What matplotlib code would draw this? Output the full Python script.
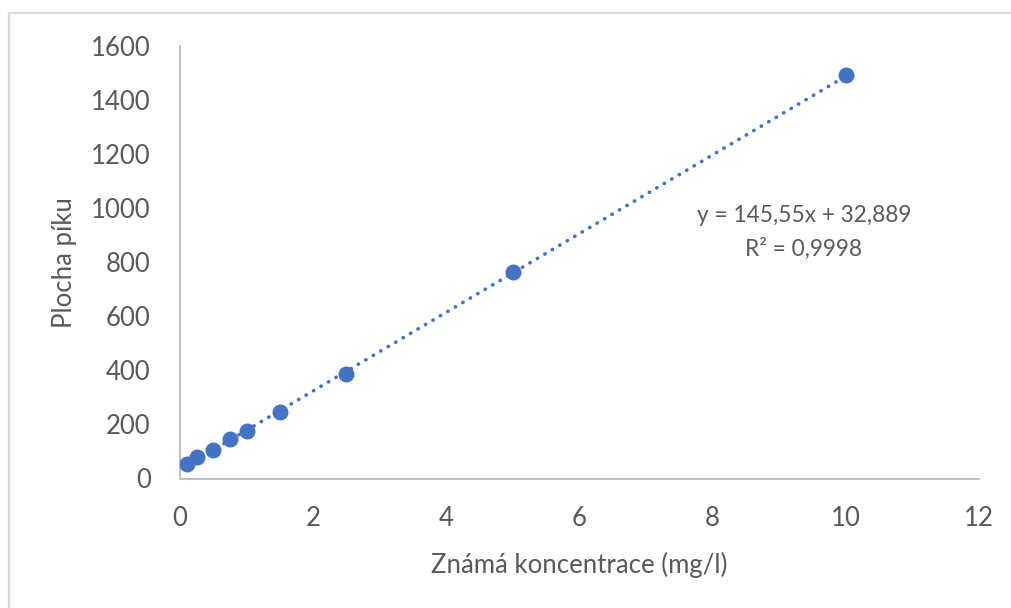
import matplotlib
matplotlib.use("Agg")
import matplotlib.pyplot as plt
from matplotlib.lines import Line2D
import numpy as np

# Calibration data: known concentration vs. peak area
concentration = [0.1, 0.25, 0.5, 0.75, 1.0, 1.5, 2.5, 5.0, 10.0]
peak_area = [55, 78, 107, 145, 176, 245, 385, 763, 1493]

# Linear trendline parameters (as reported)
slope = 145.55
intercept = 32.889
r_squared = 0.9998

x_ticks = [0, 2, 4, 6, 8, 10, 12]
y_ticks = [0, 200, 400, 600, 800, 1000, 1200, 1400, 1600]

plt.rcParams['font.family'] = ['Lato', 'DejaVu Sans']

W, H = 1012, 608
fig = plt.figure(figsize=(W / 100, H / 100), dpi=100)
ax = fig.add_axes([180 / W, 1 - 478.5 / H, (979 - 180) / W, (478.5 - 46) / H])

blue = '#4472C4'
grey_text = '#595959'
axis_grey = '#BFBFBF'

x = np.array(concentration)
xl = np.linspace(x.min(), x.max(), 200)
ax.plot(xl, slope * xl + intercept, color=blue, lw=2.6,
        linestyle=(0, (0.1, 2.3)), dash_capstyle='round', zorder=2)
ax.plot(concentration, peak_area, 'o', color=blue, markersize=11.5,
        markeredgewidth=0, zorder=3)

ax.set_xlim(0, 12)
ax.set_ylim(0, 1600)
ax.set_xticks(x_ticks)
ax.set_yticks(y_ticks)
ax.tick_params(length=0, labelsize=18.5, labelcolor=grey_text)
ax.tick_params(axis='y', pad=21)
ax.tick_params(axis='x', pad=20)

for side in ('top', 'right'):
    ax.spines[side].set_visible(False)
for side in ('left', 'bottom'):
    ax.spines[side].set_color(axis_grey)
    ax.spines[side].set_linewidth(1.4)

ax.set_xlabel('Známá koncentrace (mg/l)', fontsize=18.5, color=grey_text)
ax.set_ylabel('Plocha píku', fontsize=18.5, color=grey_text)
ax.xaxis.label.set_va('center')
ax.yaxis.label.set_va('center')
ax.xaxis.set_label_coords(0.5, (478.5 - 565) / 432.5)
ax.yaxis.set_label_coords((65 - 180) / 799, 0.5)

eq_text = f"y = {slope:.2f}x + {intercept:.3f}".replace('.', ',')
r2_text = f"R² = {r_squared:.4f}".replace('.', ',')
fig.text(804 / W, 1 - 215 / H, eq_text, ha='center', va='center',
         fontsize=16.3, color=grey_text)
fig.text(804 / W, 1 - 249 / H, r2_text, ha='center', va='center',
         fontsize=16.3, color=grey_text)

# Light frame around the chart area
frame = '#D9D9D9'
fig.add_artist(Line2D([9 / W, 9 / W], [0, 1 - 13 / H], transform=fig.transFigure,
                      color=frame, lw=1.6))
fig.add_artist(Line2D([9 / W, 1], [1 - 13 / H, 1 - 13 / H], transform=fig.transFigure,
                      color=frame, lw=1.6))

fig.savefig('out.png', dpi=100)
